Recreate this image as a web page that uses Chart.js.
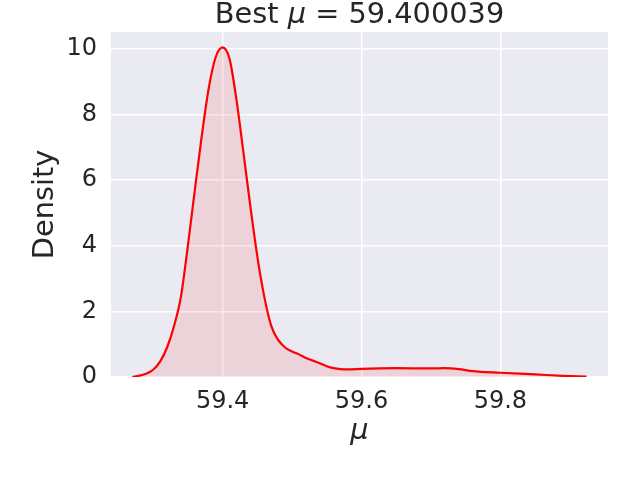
<!DOCTYPE html>
<html>
<head>
<meta charset="utf-8">
<script src="https://cdn.jsdelivr.net/npm/chart.js@4"></script>
<style>
html,body{margin:0;padding:0;background:#fff;}
#wrap{width:640px;height:480px;}
</style>
</head>
<body>
<div id="wrap"><canvas id="c" width="640" height="480"></canvas></div>
<script>
// Values
const muValues = [59.27, 59.28, 59.29, 59.30, 59.31, 59.32, 59.33, 59.34, 59.35, 59.36, 59.37, 59.38, 59.39, 59.40, 59.41, 59.42, 59.43, 59.44, 59.45, 59.46, 59.47, 59.48, 59.49, 59.50, 59.51, 59.52, 59.53, 59.54, 59.55, 59.56, 59.57, 59.58, 59.60, 59.65, 59.70, 59.72, 59.74, 59.76, 59.80, 59.85, 59.89, 59.924];
const densityValues = [0.0, 0.04, 0.1, 0.22, 0.47, 0.9, 1.55, 2.45, 4.0, 5.7, 7.35, 8.8, 9.75, 10.05, 9.7, 8.45, 6.85, 5.2, 3.68, 2.45, 1.56, 1.13, 0.9, 0.78, 0.69, 0.58, 0.5, 0.42, 0.33, 0.27, 0.24, 0.23, 0.25, 0.27, 0.26, 0.27, 0.24, 0.18, 0.13, 0.08, 0.035, 0.01];
const xTicks = [59.4, 59.6, 59.8];
const yTicks = [0, 2, 4, 6, 8, 10];
const titlePrefix = "Best ";
const titleSymbol = "μ";
const titleSuffix = " = 59.400039";
const xLabel = "μ";
const yLabel = "Density";

const points = muValues.map((x, i) => ({x: x, y: densityValues[i]}));
const FONT = "'DejaVu Sans', sans-serif";
const TXT = '#262626';

const bgPlugin = {
  id: 'bg',
  beforeDraw(chart) {
    const {ctx, chartArea: a} = chart;
    ctx.save();
    ctx.fillStyle = '#EAEAF2';
    ctx.fillRect(a.left, a.top, a.right - a.left, a.bottom - a.top);
    ctx.restore();
  }
};
const titlePlugin = {
  id: 'mixedTitle',
  afterDraw(chart) {
    const {ctx, chartArea: a} = chart;
    ctx.save();
    ctx.fillStyle = TXT;
    ctx.textBaseline = 'alphabetic';
    const fN = "28.8px " + FONT;
    const fI = "italic 28.8px " + FONT;
    ctx.font = fN; const w1 = ctx.measureText(titlePrefix).width; const w3 = ctx.measureText(titleSuffix).width;
    ctx.font = fI; const w2 = ctx.measureText(titleSymbol).width;
    const cx = (a.left + a.right) / 2;
    let x = cx - (w1 + w2 + w3) / 2;
    const y = 23;
    ctx.textAlign = 'left';
    ctx.font = fN; ctx.fillText(titlePrefix, x, y); x += w1;
    ctx.font = fI; ctx.fillText(titleSymbol, x, y); x += w2;
    ctx.font = fN; ctx.fillText(titleSuffix, x, y);
    ctx.restore();
  }
};

new Chart(document.getElementById('c'), {
  type: 'line',
  data: {
    datasets: [{
      data: points,
      borderColor: '#FF0000',
      borderWidth: 2.2,
      backgroundColor: 'rgba(255,0,0,0.1)',
      fill: 'origin',
      pointRadius: 0,
      cubicInterpolationMode: 'monotone'
    }]
  },
  options: {
    responsive: false,
    animation: false,
    devicePixelRatio: 1,
    layout: {padding: {top: 32, right: 32, left: 0, bottom: 0}},
    plugins: {legend: {display: false}, tooltip: {enabled: false}, title: {display: false}},
    scales: {
      x: {
        type: 'linear',
        min: 59.2393,
        max: 59.955,
        afterBuildTicks(s) { s.ticks = xTicks.map(v => ({value: v})); },
        afterFit(s) { s.height = 103; },
        grid: {color: '#FFFFFF', lineWidth: 1.5, drawTicks: false},
        border: {display: false},
        ticks: {color: TXT, font: {family: FONT, size: 24}, padding: 10, maxRotation: 0, callback: v => v.toFixed(1)},
        title: {display: true, text: xLabel, color: TXT, font: {family: FONT, size: 28.8, style: 'italic'}, padding: {top: 0, bottom: 31}}
      },
      y: {
        type: 'linear',
        min: 0,
        max: 10.52,
        afterBuildTicks(s) { s.ticks = yTicks.map(v => ({value: v})); },
        afterFit(s) { s.width = 111; },
        grid: {color: '#FFFFFF', lineWidth: 1.5, drawTicks: false},
        border: {display: false},
        ticks: {color: TXT, font: {family: FONT, size: 24}, padding: 14, callback: v => String(v)},
        title: {display: true, text: yLabel, color: TXT, font: {family: FONT, size: 28.8}, padding: {top: 28, bottom: 0}}
      }
    }
  },
  plugins: [bgPlugin, titlePlugin]
});
</script>
</body>
</html>
